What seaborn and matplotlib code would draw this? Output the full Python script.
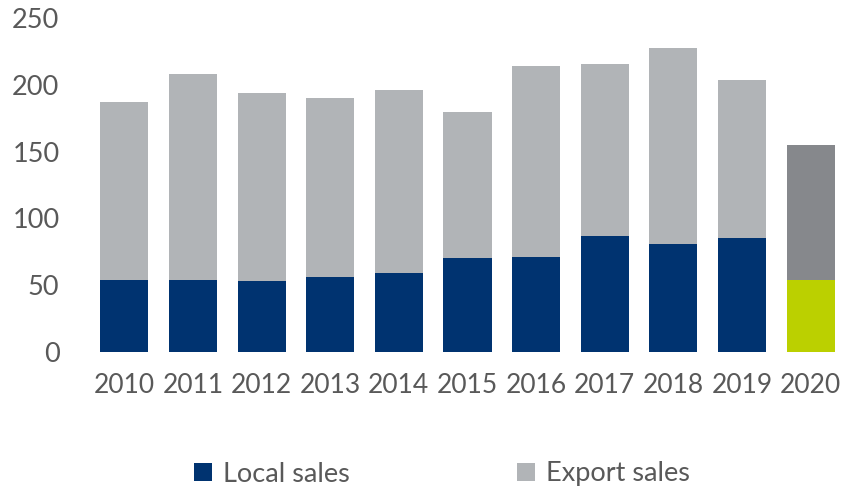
import matplotlib
matplotlib.use("Agg")
import matplotlib.pyplot as plt
from matplotlib.patches import Patch
import seaborn as sns
import pandas as pd

years = ["2010", "2011", "2012", "2013", "2014", "2015", "2016", "2017", "2018", "2019", "2020"]
local_sales = [54, 54, 53, 56, 59, 70, 71, 87, 81, 85, 54]
export_sales = [133, 154, 141, 134, 137, 110, 143, 129, 147, 119, 101]
y_ticks = [0, 50, 100, 150, 200, 250]

NAVY = "#003370"
LIGHT_GREY = "#B1B4B7"
DARK_GREY = "#86888C"
LIME = "#BBD000"
TEXT = "#595959"

local_colors = [NAVY] * 10 + [LIME]
export_colors = [LIGHT_GREY] * 10 + [DARK_GREY]

df = pd.DataFrame({"year": years, "local": local_sales, "export": export_sales})
df["total"] = df["local"] + df["export"]

sns.set_theme(style="white")
plt.rcParams["font.family"] = ["Lato", "DejaVu Sans"]

fig = plt.figure(figsize=(8.45, 4.91), dpi=100)
ax = fig.add_axes([90 / 845, 1 - 351.7 / 491, 1 - 90 / 845, (351.7 - 18.3) / 491])

# stacked bars: full height in export colour, local share drawn over it
sns.barplot(data=df, x="year", y="total", hue="year", palette=export_colors,
            legend=False, width=0.7, saturation=1, linewidth=0, ax=ax)
sns.barplot(data=df, x="year", y="local", hue="year", palette=local_colors,
            legend=False, width=0.7, saturation=1, linewidth=0, ax=ax)

ax.set_xlim(-0.5, len(years) - 0.5)
ax.set_ylim(0, 250)
ax.set_yticks(y_ticks)
ax.set_xlabel("")
ax.set_ylabel("")
for s in ax.spines.values():
    s.set_visible(False)
ax.tick_params(axis="y", length=0, pad=22, labelsize=19.5, labelcolor=TEXT)
ax.tick_params(axis="x", length=0, pad=15, labelsize=19, labelcolor=TEXT)
for lbl in ax.get_yticklabels():
    lbl.set_clip_on(False)

handles = [Patch(facecolor=NAVY, edgecolor="none", label="Local sales"),
           Patch(facecolor=LIGHT_GREY, edgecolor="none", label="Export sales")]
fig.legend(handles=handles, loc="center", bbox_to_anchor=(442 / 845, 1 - 474 / 491),
           ncol=2, frameon=False, fontsize=19.5, labelcolor=TEXT,
           handlelength=0.65, handleheight=0.65, handletextpad=0.4, columnspacing=6.2)

fig.savefig("out.png", dpi=100)
